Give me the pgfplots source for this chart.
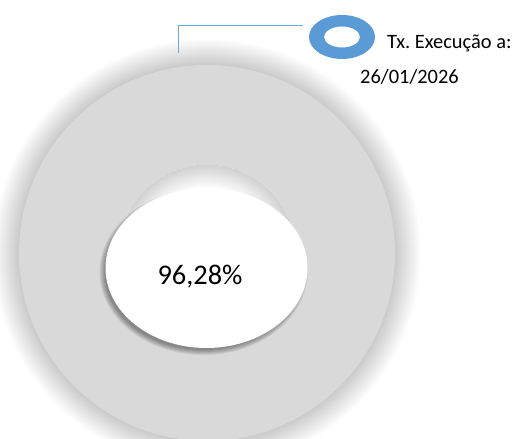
\documentclass[border=0pt]{standalone}
\usepackage{pgfplots}
\pgfplotsset{compat=1.18}
\usepackage{pgfplotstable}
\usepackage{fontspec}
\setmainfont{Carlito}
\frenchspacing
\definecolor{ringgray}{HTML}{D9D9D9}
\definecolor{legblue}{HTML}{5B9BD5}
\definecolor{leadblue}{HTML}{6FA8DC}
% donut: one slice (value), centre x, centre y, outer r, inner r
\pgfplotstableread{
label value cx cy rout rin
Execucao 100 207 186 188 88
}\donut
\pgfplotstablegetelem{0}{cx}\of\donut \edef\cx{\pgfplotsretval}
\pgfplotstablegetelem{0}{cy}\of\donut \edef\cy{\pgfplotsretval}
\pgfplotstablegetelem{0}{rout}\of\donut \edef\rout{\pgfplotsretval}
\pgfplotstablegetelem{0}{rin}\of\donut \edef\rin{\pgfplotsretval}
\begin{document}
\begin{tikzpicture}
\useasboundingbox (0,0) rectangle (523bp,439bp);
\begin{axis}[
  at={(0,0)}, anchor=south west,
  width=523bp, height=439bp, scale only axis,
  xmin=0, xmax=523, ymin=0, ymax=439,
  hide axis, clip=true,
]
% outer blurred shadow
\pgfplotsinvokeforeach{26,25,...,1}{
  \fill[black, opacity=0.008] (axis cs:\cx,\cy) circle[radius=\rout+#1];
}
% ring (single slice = 100 %)
\fill[ringgray, even odd rule] (axis cs:\cx,\cy) circle[radius=\rout] (axis cs:\cx,\cy) circle[radius=\rin];
% hole background
\fill[white] (axis cs:\cx,\cy) circle[radius=\rin];
% inner shadow in the hole
\begin{scope}
\clip (axis cs:\cx,\cy) circle[radius=\rin];
\pgfplotsinvokeforeach{1,...,22}{
  \fill[black, opacity=0.007, even odd rule] (axis cs:\cx,\cy) circle[radius=\rin+2] (axis cs:\cx,\cy-1) circle[radius=\rin-#1];
}
\end{scope}
% white centre ellipse shadow
\pgfplotsinvokeforeach{0,...,5}{
  \fill[black, opacity=0.07] (axis cs:203.5,167) ellipse[x radius=99+#1, y radius=78+#1];
}
\fill[white] (axis cs:206.5,171) ellipse[x radius=101, y radius=80];
\node[font=\fontsize{28.5}{32}\selectfont, text=black] at (axis cs:200,162) {96,28\%};
% leader line
\draw[leadblue, line width=1bp] (axis cs:303,413) -- (axis cs:178,413) -- (axis cs:178,386);
% legend
\fill[legblue, even odd rule] (axis cs:342,402) ellipse[x radius=33, y radius=22] (axis cs:342,402) ellipse[x radius=18, y radius=10.5];
\node[anchor=base west, font=\fontsize{20.5}{24}\selectfont, inner sep=0pt] at (axis cs:387,390) {Tx. Execução a:};
\node[anchor=base west, font=\fontsize{20.5}{24}\selectfont, inner sep=0pt] at (axis cs:360,355) {26/01/2026};
\end{axis}
\end{tikzpicture}
\end{document}
